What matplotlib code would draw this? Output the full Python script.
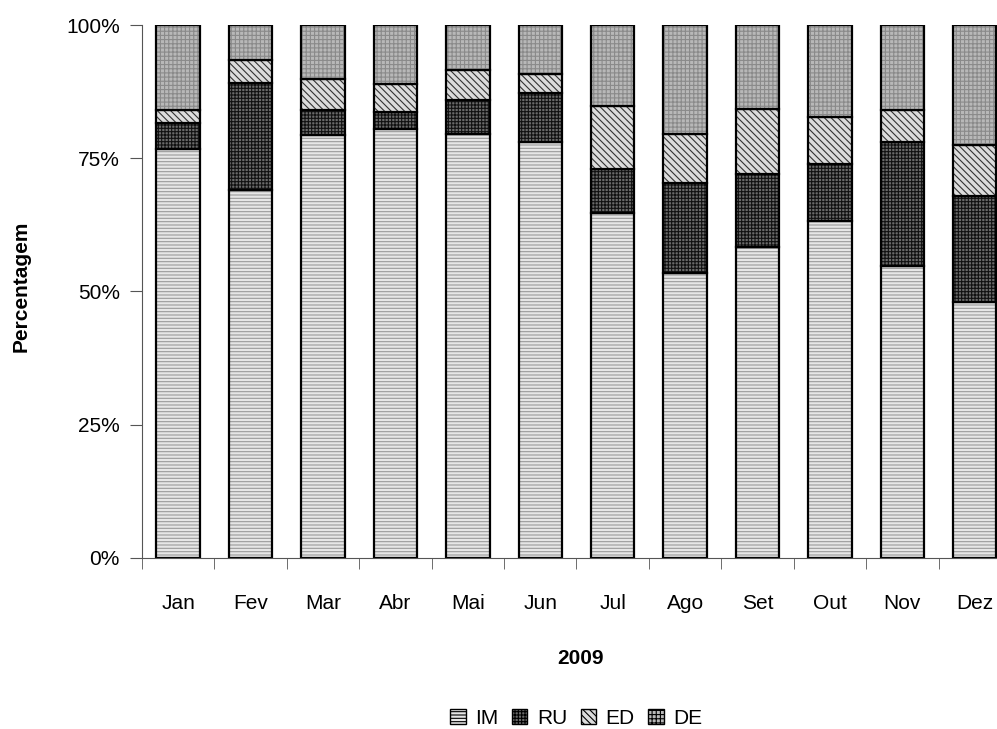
import numpy as np
import matplotlib.pyplot as plt
from matplotlib.patches import Patch
from matplotlib.ticker import FuncFormatter

plt.rcParams['font.family'] = ['Liberation Sans', 'DejaVu Sans']
plt.rcParams['hatch.linewidth'] = 0.8

# dados (% por mês)
meses = ['Jan', 'Fev', 'Mar', 'Abr', 'Mai', 'Jun', 'Jul', 'Ago', 'Set', 'Out', 'Nov', 'Dez']
im = [76.7, 69.0, 79.4, 80.5, 79.5, 78.1, 64.8, 53.4, 58.3, 63.2, 54.8, 48.1]
ru = [4.9, 20.1, 4.7, 3.2, 6.5, 9.1, 8.2, 17.0, 13.7, 10.7, 23.3, 19.9]
ed = [2.5, 4.3, 5.8, 5.2, 5.5, 3.7, 11.8, 9.1, 12.3, 8.9, 5.9, 9.5]
de = [15.9, 6.6, 10.1, 11.1, 8.5, 9.1, 15.2, 20.5, 15.7, 17.2, 16.0, 22.5]

series = [('IM', im), ('RU', ru), ('ED', ed), ('DE', de)]
# estilo: cor de fundo, hachura, cor da hachura
estilos = {
    'IM': ('#e6e6e6', '-----', '#9a9a9a'),
    'RU': ('#6a6a6a', '+++++', '#111111'),
    'ED': ('#dcdcdc', '\\\\\\\\\\', '#333333'),
    'DE': ('#b8b8b8', '++++', '#8a8a8a'),
}

fig = plt.figure(figsize=(9.97, 7.29), dpi=100)
ax = fig.add_axes([0.1424, 0.2346, 0.8716, 0.7311])

x = np.arange(len(meses))
largura = 0.6
base = np.zeros(len(meses))
for nome, vals in series:
    vals = np.array(vals)
    fc, h, hc = estilos[nome]
    ax.bar(x, vals, largura, bottom=base, color=fc, hatch=h, edgecolor=hc, linewidth=0)
    ax.bar(x, vals, largura, bottom=base, fill=False, edgecolor='black', linewidth=1.6)
    base += vals

ax.set_xlim(-0.5, len(meses) - 0.5)
ax.set_ylim(0, 100)
ax.set_yticks([0, 25, 50, 75, 100])
ax.yaxis.set_major_formatter(FuncFormatter(lambda v, p: f'{v:.0f}%'))
ax.set_xticks(x)
ax.set_xticklabels(meses)
ax.set_xticks(np.arange(-0.5, len(meses), 1.0), minor=True)

for s in ['top', 'right']:
    ax.spines[s].set_visible(False)
ax.spines['left'].set_color('#555555')
ax.spines['bottom'].set_color('#555555')

ax.tick_params(axis='x', which='major', length=0, pad=26, labelsize=15)
ax.tick_params(axis='x', which='minor', length=8, color='#555555', direction='out')
ax.tick_params(axis='y', length=9, color='#555555', pad=7, labelsize=15)

ax.set_ylabel('Percentagem', fontsize=15, fontweight='bold')
ax.yaxis.set_label_coords(-0.128, 0.51)
ax.set_xlabel('2009', fontsize=15, fontweight='bold')
ax.xaxis.set_label_coords(0.505, -0.17)

handles = []
for nome, _ in series:
    fc, h, hc = estilos[nome]
    handles.append(Patch(facecolor=fc, hatch=h, edgecolor='black', linewidth=1.0))
leg = fig.legend(handles, [n for n, _ in series], loc='center', bbox_to_anchor=(0.578, 0.015),
                 ncol=4, frameon=False, fontsize=15, handlelength=0.75, handleheight=0.75,
                 handletextpad=0.45, columnspacing=0.65, borderpad=0.1)

plt.savefig('out.png', dpi=100)
